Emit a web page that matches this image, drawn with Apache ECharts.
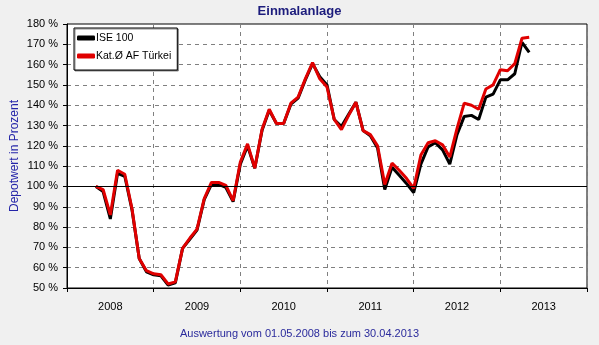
<!DOCTYPE html>
<html>
<head>
<meta charset="utf-8">
<script src="https://cdn.jsdelivr.net/npm/echarts@6/dist/echarts.min.js"></script>
<style>
  html, body { margin: 0; padding: 0; background: #f0f0f0; }
  #chart { width: 599px; height: 345px; }
</style>
</head>
<body>
<div id="chart"></div>
<script>
// Year labels along the time axis
const years = ['2008', '2009', '2010', '2011', '2012', '2013'];
const startYear = 2008;
const startMonth = 5; // first value: May 2008

// Monthly portfolio values in percent of the initial investment
const ise100 = [
  100, 97.5, 84, 106.5, 105, 88.5, 64.5, 58,
  56.5, 56, 51.5, 52.5, 69.5, 74, 78.5, 93.5, 101, 101, 99.5, 92.5,
  111, 120, 109, 127.5, 137.5, 131, 131, 140.5, 143.5, 152.5, 160.5, 154,
  150, 133, 129.5, 135.5, 141.5, 127.5, 125, 119, 98.5, 109.5, 105.5, 101.5,
  97, 111, 119.5, 121.5, 118, 111, 125.5, 134.5, 135, 133, 144, 145.5,
  152.5, 152.5, 155.5, 171, 166
];
const katAfTuerkei = [
  100, 98.5, 86, 108, 106, 89, 64.5, 58.5,
  57, 56.5, 52, 53, 69.5, 74.5, 79, 94, 102, 102, 100.5, 93,
  112, 121, 109, 128, 138, 131, 131, 141, 144, 153, 161, 153,
  149, 133, 128, 135, 141.5, 127.5, 125.5, 120, 101, 111.5, 108, 104,
  99, 115.5, 121.5, 122.5, 120.5, 114.5, 128.5, 141, 140, 138, 148, 150,
  157.5, 157, 160.5, 173, 173.5
];

// Month offsets (months since January 2008) for each value
const monthIndex = ise100.map((_, i) => (startMonth - 1) + i);
const toPairs = arr => arr.map((v, i) => [monthIndex[i], v]);

const font = 'Arial, "Liberation Sans", sans-serif';
const chart = echarts.init(document.getElementById('chart'), null, { renderer: 'canvas' });

chart.setOption({
  animation: false,
  backgroundColor: '#f0f0f0',
  textStyle: { fontFamily: font },
  title: [
    {
      text: 'Einmalanlage',
      left: 'center',
      top: 0,
      padding: [5, 5, 5, 5],
      textStyle: { color: '#1c1c7c', fontSize: 13, fontWeight: 'bold', fontFamily: font }
    },
    {
      text: 'Auswertung vom 01.05.2008 bis zum 30.04.2013',
      left: 'center',
      top: 328,
      padding: 0,
      textStyle: { color: '#2a2a9c', fontSize: 11, fontWeight: 'normal', fontFamily: font }
    }
  ],
  legend: {
    orient: 'vertical',
    left: 74,
    top: 28,
    padding: [4, 6, 8, 3],
    itemGap: 6,
    itemWidth: 18,
    itemHeight: 5,
    icon: 'roundRect',
    backgroundColor: '#ffffff',
    borderColor: '#000000',
    borderWidth: 1,
    shadowColor: 'rgba(0,0,0,0.45)',
    shadowOffsetX: 1,
    shadowOffsetY: 1,
    shadowBlur: 0,
    textStyle: { color: '#000', fontSize: 10.5, lineHeight: 12, fontFamily: font, padding: [0, 0, 0, -4] },
    data: ['ISE 100', 'Kat.Ø AF Türkei']
  },
  grid: {
    left: 67, right: 12, top: 24, bottom: 57,
    outerBoundsMode: 'none',
    containLabel: false,
    show: true,
    backgroundColor: '#ffffff',
    borderColor: '#000000',
    borderWidth: 1
  },
  xAxis: {
    type: 'value',
    min: 0,
    max: 72,
    interval: 12,
    axisLine: { lineStyle: { color: '#000', width: 1 } },
    axisTick: { length: 4, lineStyle: { color: '#000' } },
    splitLine: { lineStyle: { color: '#808080', type: [4, 4], width: 1 } },
    axisLabel: {
      customValues: years.map((_, i) => i * 12 + 6),
      formatter: v => years[Math.round((v - 6) / 12)] || '',
      color: '#000',
      fontSize: 11,
      margin: 13,
      fontFamily: font
    }
  },
  yAxis: {
    type: 'value',
    min: 50,
    max: 180,
    interval: 10,
    name: 'Depotwert in Prozent',
    nameLocation: 'middle',
    nameGap: 46,
    nameMoveOverlap: false,
    nameTextStyle: { color: '#2424a8', fontSize: 12, fontFamily: font },
    axisLine: { show: true, lineStyle: { color: '#000', width: 1 } },
    axisTick: { show: true, length: 4, lineStyle: { color: '#000' } },
    splitLine: { lineStyle: { color: '#808080', type: [4, 4], width: 1 } },
    axisLabel: { formatter: '{value} %', color: '#000', fontSize: 11, margin: 9, fontFamily: font }
  },
  series: [
    {
      name: 'ISE 100',
      type: 'line',
      data: toPairs(ise100),
      symbol: 'none',
      z: 3,
      color: '#000000',
      lineStyle: { color: '#000000', width: 3 },
      markLine: {
        silent: true,
        symbol: 'none',
        label: { show: false },
        lineStyle: { color: '#000', width: 1, type: 'solid' },
        data: [{ yAxis: 100 }]
      }
    },
    {
      name: 'Kat.Ø AF Türkei',
      type: 'line',
      data: toPairs(katAfTuerkei),
      symbol: 'none',
      z: 4,
      color: '#e00000',
      lineStyle: { color: '#e00000', width: 3 }
    }
  ]
});
</script>
</body>
</html>
